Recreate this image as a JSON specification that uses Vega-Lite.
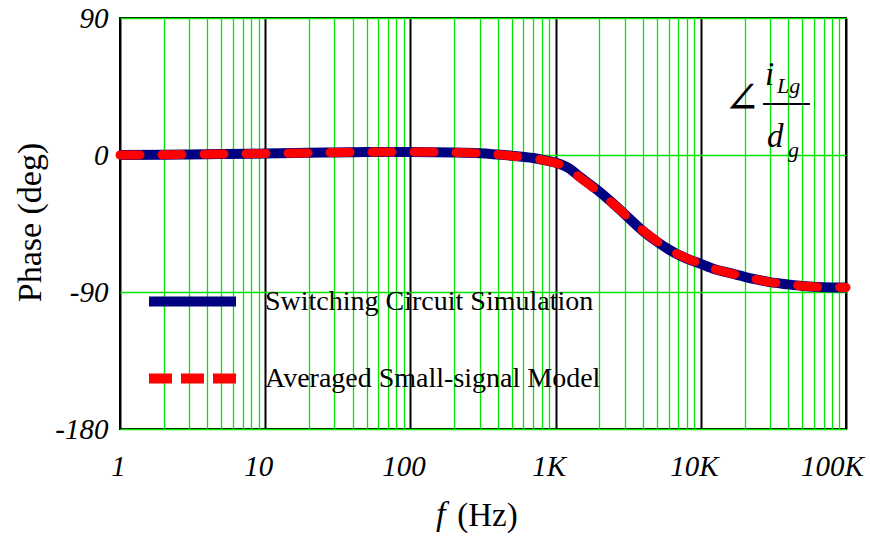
{
  "$schema": "https://vega.github.io/schema/vega-lite/v6.json",
  "width": 726,
  "height": 411,
  "autosize": {"type": "none"},
  "padding": {"left": 120, "top": 18, "right": 24, "bottom": 110},
  "background": "white",
  "config": {
    "view": {"stroke": "#000000", "strokeWidth": 2},
    "font": "Liberation Serif"
  },
  "datasets": {
    "curves": [
      {"series": "Switching Circuit Simulation", "f": 1, "phase": 0},
      {"series": "Switching Circuit Simulation", "f": 2, "phase": 0.2},
      {"series": "Switching Circuit Simulation", "f": 3, "phase": 0.4},
      {"series": "Switching Circuit Simulation", "f": 5, "phase": 0.6},
      {"series": "Switching Circuit Simulation", "f": 10, "phase": 1.0},
      {"series": "Switching Circuit Simulation", "f": 20, "phase": 1.4},
      {"series": "Switching Circuit Simulation", "f": 30, "phase": 1.7},
      {"series": "Switching Circuit Simulation", "f": 50, "phase": 1.9},
      {"series": "Switching Circuit Simulation", "f": 100, "phase": 2.0},
      {"series": "Switching Circuit Simulation", "f": 200, "phase": 1.7},
      {"series": "Switching Circuit Simulation", "f": 300, "phase": 1.2},
      {"series": "Switching Circuit Simulation", "f": 500, "phase": -0.5},
      {"series": "Switching Circuit Simulation", "f": 700, "phase": -2},
      {"series": "Switching Circuit Simulation", "f": 850, "phase": -3.5},
      {"series": "Switching Circuit Simulation", "f": 1000, "phase": -5},
      {"series": "Switching Circuit Simulation", "f": 1200, "phase": -8},
      {"series": "Switching Circuit Simulation", "f": 1500, "phase": -15},
      {"series": "Switching Circuit Simulation", "f": 2000, "phase": -24},
      {"series": "Switching Circuit Simulation", "f": 2500, "phase": -32},
      {"series": "Switching Circuit Simulation", "f": 3000, "phase": -39},
      {"series": "Switching Circuit Simulation", "f": 4000, "phase": -50},
      {"series": "Switching Circuit Simulation", "f": 5000, "phase": -57},
      {"series": "Switching Circuit Simulation", "f": 6000, "phase": -62},
      {"series": "Switching Circuit Simulation", "f": 7000, "phase": -65.5},
      {"series": "Switching Circuit Simulation", "f": 8500, "phase": -69},
      {"series": "Switching Circuit Simulation", "f": 10000, "phase": -71.5},
      {"series": "Switching Circuit Simulation", "f": 12500, "phase": -75},
      {"series": "Switching Circuit Simulation", "f": 15000, "phase": -77},
      {"series": "Switching Circuit Simulation", "f": 20000, "phase": -80},
      {"series": "Switching Circuit Simulation", "f": 25000, "phase": -82},
      {"series": "Switching Circuit Simulation", "f": 30000, "phase": -83.5},
      {"series": "Switching Circuit Simulation", "f": 40000, "phase": -85},
      {"series": "Switching Circuit Simulation", "f": 50000, "phase": -86},
      {"series": "Switching Circuit Simulation", "f": 70000, "phase": -86.8},
      {"series": "Switching Circuit Simulation", "f": 100000, "phase": -87},
      {"series": "Averaged Small-signal Model", "f": 1, "phase": 0},
      {"series": "Averaged Small-signal Model", "f": 2, "phase": 0.2},
      {"series": "Averaged Small-signal Model", "f": 3, "phase": 0.4},
      {"series": "Averaged Small-signal Model", "f": 5, "phase": 0.6},
      {"series": "Averaged Small-signal Model", "f": 10, "phase": 1.0},
      {"series": "Averaged Small-signal Model", "f": 20, "phase": 1.4},
      {"series": "Averaged Small-signal Model", "f": 30, "phase": 1.7},
      {"series": "Averaged Small-signal Model", "f": 50, "phase": 1.9},
      {"series": "Averaged Small-signal Model", "f": 100, "phase": 2.0},
      {"series": "Averaged Small-signal Model", "f": 200, "phase": 1.7},
      {"series": "Averaged Small-signal Model", "f": 300, "phase": 1.2},
      {"series": "Averaged Small-signal Model", "f": 500, "phase": -0.6},
      {"series": "Averaged Small-signal Model", "f": 700, "phase": -2.2},
      {"series": "Averaged Small-signal Model", "f": 850, "phase": -3.7},
      {"series": "Averaged Small-signal Model", "f": 1000, "phase": -5.3},
      {"series": "Averaged Small-signal Model", "f": 1200, "phase": -8.5},
      {"series": "Averaged Small-signal Model", "f": 1500, "phase": -15.5},
      {"series": "Averaged Small-signal Model", "f": 2000, "phase": -24.5},
      {"series": "Averaged Small-signal Model", "f": 2500, "phase": -32.2},
      {"series": "Averaged Small-signal Model", "f": 3000, "phase": -39},
      {"series": "Averaged Small-signal Model", "f": 4000, "phase": -49.8},
      {"series": "Averaged Small-signal Model", "f": 5000, "phase": -56.7},
      {"series": "Averaged Small-signal Model", "f": 6000, "phase": -61.8},
      {"series": "Averaged Small-signal Model", "f": 7000, "phase": -65.3},
      {"series": "Averaged Small-signal Model", "f": 8500, "phase": -68.9},
      {"series": "Averaged Small-signal Model", "f": 10000, "phase": -71.5},
      {"series": "Averaged Small-signal Model", "f": 12500, "phase": -75},
      {"series": "Averaged Small-signal Model", "f": 15000, "phase": -77},
      {"series": "Averaged Small-signal Model", "f": 20000, "phase": -80},
      {"series": "Averaged Small-signal Model", "f": 25000, "phase": -82},
      {"series": "Averaged Small-signal Model", "f": 30000, "phase": -83.5},
      {"series": "Averaged Small-signal Model", "f": 40000, "phase": -85},
      {"series": "Averaged Small-signal Model", "f": 50000, "phase": -86},
      {"series": "Averaged Small-signal Model", "f": 70000, "phase": -86.8},
      {"series": "Averaged Small-signal Model", "f": 100000, "phase": -87}
    ]
  },
  "layer": [
    {
      "data": {"name": "curves"},
      "transform": [{"filter": "datum.series == 'Switching Circuit Simulation'"}],
      "mark": {"type": "line", "strokeWidth": 10, "interpolate": "monotone", "strokeCap": "butt"},
      "encoding": {
        "x": {
          "field": "f",
          "type": "quantitative",
          "scale": {"type": "log", "domain": [1, 100000], "nice": false},
          "axis": {
            "values": [1,2,3,4,5,6,7,8,9,10,20,30,40,50,60,70,80,90,100,200,300,400,500,600,700,800,900,1000,2000,3000,4000,5000,6000,7000,8000,9000,10000,20000,30000,40000,50000,60000,70000,80000,90000,100000],
            "labelExpr": "datum.value==1?'1':datum.value==10?'10':datum.value==100?'100':datum.value==1000?'1K':datum.value==10000?'10K':datum.value==100000?'100K':''",
            "labelFont": "Liberation Serif",
            "labelFontStyle": "italic",
            "labelFontSize": 29,
            "labelColor": "#000000",
            "labelPadding": 23,
            "labelOffset": {"condition": [{"test": "datum.value==100000", "value": -14}, {"test": "datum.value==1", "value": -2}], "value": -7},
            "labelOverlap": false,
            "labelFlush": false,
            "labelBound": false,
            "ticks": false,
            "domain": false,
            "grid": true,
            "gridColor": {"condition": {"test": "datum.value==1||datum.value==10||datum.value==100||datum.value==1000||datum.value==10000||datum.value==100000", "value": "#000000"}, "value": "#00e600"},
            "gridWidth": {"condition": {"test": "datum.value==1||datum.value==10||datum.value==100||datum.value==1000||datum.value==10000||datum.value==100000", "value": 2}, "value": 1.3},
            "gridOpacity": 1,
            "title": "(Hz)",
            "titleFont": "Liberation Serif",
            "titleFontSize": 33,
            "titleFontWeight": "normal",
            "titleColor": "#000000",
            "titleX": 367,
            "titleY": 96,
            "titleAlign": "center",
            "titleBaseline": "alphabetic"
          }
        },
        "y": {
          "field": "phase",
          "type": "quantitative",
          "scale": {"domain": [-180, 90], "nice": false, "zero": false},
          "axis": {
            "values": [-180, -90, 0, 90],
            "labelExpr": "'' + datum.value",
            "labelFont": "Liberation Serif",
            "labelFontStyle": "italic",
            "labelFontSize": 29,
            "labelColor": "#000000",
            "labelPadding": 12,
            "ticks": false,
            "domain": false,
            "grid": true,
            "gridColor": "#00e600",
            "gridWidth": 1.3,
            "gridOpacity": 1,
            "title": "Phase (deg)",
            "titleFont": "Liberation Serif",
            "titleFontSize": 34,
            "titleFontWeight": "normal",
            "titleColor": "#000000",
            "titleX": -90,
            "titleY": 204,
            "titleAngle": 270,
            "titleAlign": "center",
            "titleBaseline": "middle"
          }
        },
        "color": {
          "field": "series",
          "type": "nominal",
          "scale": {"domain": ["Switching Circuit Simulation", "Averaged Small-signal Model"], "range": ["#000080", "#ff0000"]},
          "legend": {
            "orient": "none",
            "legendX": 24,
            "legendY": 246,
            "title": null,
            "padding": 0,
            "symbolType": "stroke",
            "symbolSize": 7569,
            "symbolStrokeWidth": 10,
            "labelFont": "Liberation Serif",
            "labelFontSize": 28,
            "labelColor": "#000000",
            "labelOffset": 24,
            "labelLimit": 0,
            "clipHeight": 75,
            "rowPadding": 2,
            "encode": {
              "symbols": {
                "update": {
                  "strokeDash": {"signal": "datum.value == 'Averaged Small-signal Model' ? [23, 9] : [1, 0]"},
                  "strokeCap": {"value": "butt"}
                }
              }
            }
          }
        }
      }
    },
    {
      "data": {"name": "curves"},
      "transform": [{"filter": "datum.series == 'Averaged Small-signal Model'"}],
      "mark": {"type": "line", "strokeWidth": 9, "interpolate": "monotone", "strokeCap": "round", "strokeDash": [20, 22]},
      "encoding": {
        "x": {"field": "f", "type": "quantitative"},
        "y": {"field": "phase", "type": "quantitative"},
        "color": {"field": "series", "type": "nominal"}
      }
    },
    {
      "data": {"values": [{"label": "∠"}]},
      "mark": {"type": "text", "font": "DejaVu Serif", "fontSize": 44, "align": "center", "baseline": "alphabetic", "color": "#000000"},
      "encoding": {"x": {"datum": 19200, "type": "quantitative"}, "y": {"datum": 27.6, "type": "quantitative"}, "text": {"field": "label"}}
    },
    {
      "data": {"values": [{"label": "i"}]},
      "mark": {"type": "text", "font": "Liberation Serif", "fontStyle": "italic", "fontSize": 33, "align": "left", "baseline": "alphabetic", "color": "#000000"},
      "encoding": {"x": {"datum": 27700, "type": "quantitative"}, "y": {"datum": 46, "type": "quantitative"}, "text": {"field": "label"}}
    },
    {
      "data": {"values": [{"label": "Lg"}]},
      "mark": {"type": "text", "font": "Liberation Serif", "fontStyle": "italic", "fontSize": 22, "align": "left", "baseline": "alphabetic", "color": "#000000"},
      "encoding": {"x": {"datum": 33500, "type": "quantitative"}, "y": {"datum": 40.7, "type": "quantitative"}, "text": {"field": "label"}}
    },
    {
      "data": {"values": [{"label": "bar"}]},
      "mark": {"type": "rule", "strokeWidth": 2, "color": "#000000"},
      "encoding": {"x": {"datum": 26800, "type": "quantitative"}, "x2": {"datum": 56500}, "y": {"datum": 33.5, "type": "quantitative"}}
    },
    {
      "data": {"values": [{"label": "d"}]},
      "mark": {"type": "text", "font": "Liberation Serif", "fontStyle": "italic", "fontSize": 33, "align": "left", "baseline": "alphabetic", "color": "#000000"},
      "encoding": {"x": {"datum": 28600, "type": "quantitative"}, "y": {"datum": 5.3, "type": "quantitative"}, "text": {"field": "label"}}
    },
    {
      "data": {"values": [{"label": "g"}]},
      "mark": {"type": "text", "font": "Liberation Serif", "fontStyle": "italic", "fontSize": 22, "align": "left", "baseline": "alphabetic", "color": "#000000"},
      "encoding": {"x": {"datum": 39900, "type": "quantitative"}, "y": {"datum": -1.3, "type": "quantitative"}, "text": {"field": "label"}}
    },
    {
      "data": {"values": [{"label": "f"}]},
      "mark": {"type": "text", "font": "Liberation Serif", "fontStyle": "italic", "fontSize": 34, "align": "center", "baseline": "alphabetic", "color": "#000000"},
      "encoding": {"x": {"datum": 162, "type": "quantitative"}, "y": {"datum": -243, "type": "quantitative"}, "text": {"field": "label"}}
    }
  ]
}
